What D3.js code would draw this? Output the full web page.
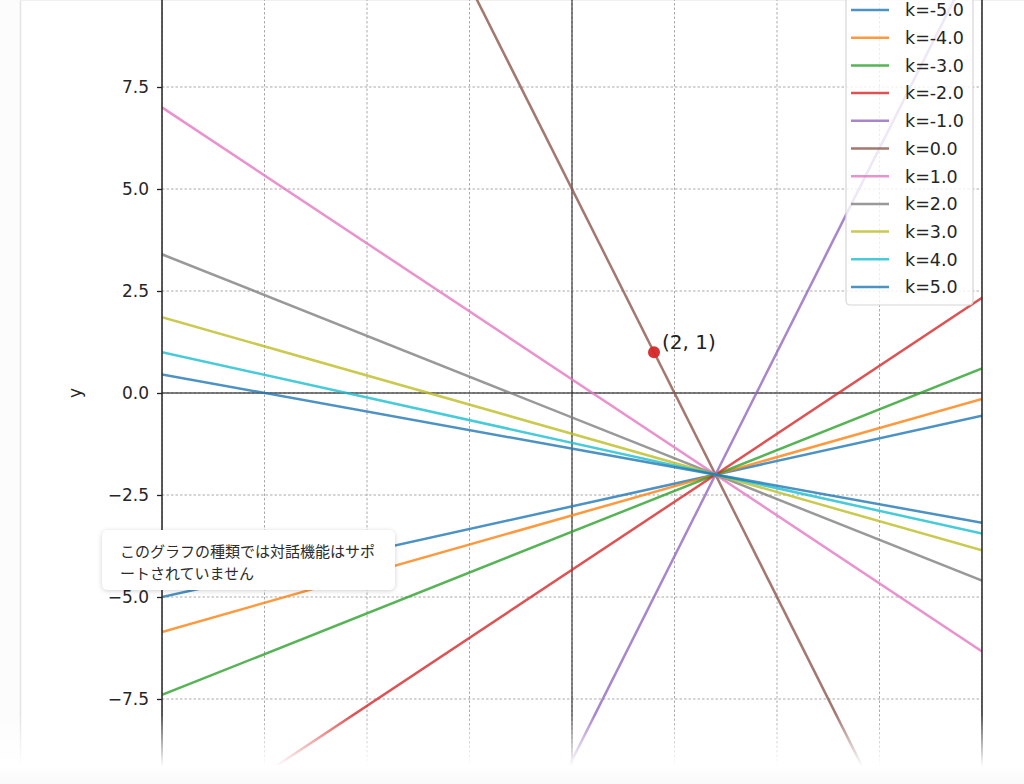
<!DOCTYPE html>
<html>
<head>
<meta charset="utf-8">
<script src="https://cdn.jsdelivr.net/npm/d3@7"></script>
<style>
  html, body { margin: 0; padding: 0; background: #ffffff; overflow: hidden; }
  svg { display: block; }
</style>
</head>
<body>
<svg id="chart" width="1024" height="784"></svg>
<script>
// ---- data ----
const kValues = [-5, -4, -3, -2, -1, 0, 1, 2, 3, 4, 5];
const xEnds = [-10, 10];
// y at x=-10 and at x=10 for each line (all pass through (3.5, -2))
const yLeft  = [-5.0, -5.857, -7.4, -11.0, -29.0, 25.0, 7.0, 3.4, 1.857, 1.0, 0.455];
const yRight = [-0.556, -0.143, 0.6, 2.333, 11.0, -15.0, -6.333, -4.6, -3.857, -3.444, -3.182];
const lineColors = ["#1f77b4", "#ff7f0e", "#2ca02c", "#d62728", "#9467bd", "#8c564b",
                    "#e377c2", "#7f7f7f", "#bcbd22", "#17becf", "#1f77b4"];
const yTicks = [-7.5, -5.0, -2.5, 0.0, 2.5, 5.0, 7.5];
const xGrid = [-10, -7.5, -5, -2.5, 0, 2.5, 5, 7.5, 10];
const yGrid = [-10, -7.5, -5, -2.5, 0, 2.5, 5, 7.5, 10];
const markPoint = { x: 2, y: 1, label: "(2, 1)" };
const tooltipLines = ["このグラフの種類では対話機能はサポ", "ートされていません"];

// ---- layout ----
const svg = d3.select("#chart");
const W = 1024, H = 784;
const L = 162, R = 982, T = -15, B = 801;
const x = d3.scaleLinear().domain([-10, 10]).range([L, R]);
const y = d3.scaleLinear().domain([-10, 10]).range([B, T]);
const font = "'DejaVu Sans', sans-serif";

// page background + left border
svg.append("rect").attr("width", W).attr("height", H).attr("fill", "#ffffff");
svg.append("rect").attr("x", 0).attr("y", 0).attr("width", 20).attr("height", H).attr("fill", "#fcfcfc");
svg.append("line").attr("x1", 20.5).attr("x2", 20.5).attr("y1", 0).attr("y2", H)
  .attr("stroke", "#e4e4e4").attr("stroke-width", 1.5);
svg.append("line").attr("x1", 20).attr("x2", W).attr("y1", 0.5).attr("y2", 0.5)
  .attr("stroke", "#f0f0f0").attr("stroke-width", 1);

const defs = svg.append("defs");
defs.append("clipPath").attr("id", "plotclip").append("rect")
  .attr("x", L).attr("y", T).attr("width", R - L).attr("height", B - T);

const g = svg.append("g");

// grid
const grid = g.append("g").attr("clip-path", "url(#plotclip)");
grid.selectAll("line.gx").data(xGrid).join("line")
  .attr("x1", d => x(d)).attr("x2", d => x(d)).attr("y1", T).attr("y2", B)
  .attr("stroke", "#aaaaaa").attr("stroke-width", 1).attr("stroke-dasharray", "2.5,2");
grid.selectAll("line.gy").data(yGrid).join("line")
  .attr("x1", L).attr("x2", R).attr("y1", d => y(d)).attr("y2", d => y(d))
  .attr("stroke", "#aaaaaa").attr("stroke-width", 1).attr("stroke-dasharray", "2.5,2");

// axis lines at x=0, y=0
g.append("line").attr("x1", L).attr("x2", R).attr("y1", y(0)).attr("y2", y(0))
  .attr("stroke", "#222").attr("stroke-opacity", 0.75).attr("stroke-width", 1.4);
g.append("line").attr("x1", x(0)).attr("x2", x(0)).attr("y1", T).attr("y2", B)
  .attr("stroke", "#222").attr("stroke-opacity", 0.75).attr("stroke-width", 1.4);

// lines
const lineGen = d3.line().x(d => x(d[0])).y(d => y(d[1]));
const linesG = g.append("g").attr("clip-path", "url(#plotclip)");
kValues.forEach((k, i) => {
  linesG.append("path")
    .attr("d", lineGen([[xEnds[0], yLeft[i]], [xEnds[1], yRight[i]]]))
    .attr("fill", "none").attr("stroke", lineColors[i])
    .attr("stroke-opacity", 0.8).attr("stroke-width", 2.5);
});

// point
g.append("circle").attr("cx", x(markPoint.x)).attr("cy", y(markPoint.y)).attr("r", 6)
  .attr("fill", "#d62728").attr("fill-opacity", 0.95);
g.append("text").attr("x", x(markPoint.x) + 8).attr("y", y(markPoint.y) - 3)
  .attr("font-family", font).attr("font-size", 20).attr("fill", "#222")
  .text(markPoint.label);

// spines
g.append("line").attr("x1", L).attr("x2", L).attr("y1", T).attr("y2", B)
  .attr("stroke", "#222").attr("stroke-width", 1.5);
g.append("line").attr("x1", R).attr("x2", R).attr("y1", T).attr("y2", B)
  .attr("stroke", "#222").attr("stroke-width", 1.5);

// y axis ticks
const yAxis = d3.axisLeft(y).tickValues(yTicks).tickSize(5).tickPadding(8)
  .tickFormat(d => d3.format(".1f")(d).replace(/[-\u2212]/, "\u2212"));
const ya = g.append("g").attr("transform", `translate(${L},0)`).call(yAxis);
ya.select(".domain").remove();
ya.selectAll(".tick line").attr("stroke", "#222").attr("stroke-width", 1.3);
ya.selectAll(".tick text").attr("font-family", font).attr("font-size", 17).attr("fill", "#262626");

// y label
g.append("text").attr("transform", `translate(81,${y(0)}) rotate(-90)`)
  .attr("text-anchor", "middle").attr("font-family", font).attr("font-size", 17)
  .attr("fill", "#262626").text("y");

// legend
const lg = g.append("g");
const legX = 846, legW = 127, legTop = -10, legBottom = 305;
lg.append("rect").attr("x", legX).attr("y", legTop).attr("width", legW).attr("height", legBottom - legTop)
  .attr("rx", 4).attr("fill", "#ffffff").attr("fill-opacity", 0.8)
  .attr("stroke", "#d6d6d6").attr("stroke-width", 1.2);
const rowY = d3.scaleLinear().domain([0, 10]).range([10, 287]);
kValues.forEach((k, i) => {
  const yy = rowY(i);
  lg.append("line").attr("x1", 851).attr("x2", 889).attr("y1", yy).attr("y2", yy)
    .attr("stroke", lineColors[i]).attr("stroke-opacity", 0.8).attr("stroke-width", 2.5);
  lg.append("text").attr("x", 905).attr("y", yy).attr("dy", "0.36em")
    .attr("font-family", font).attr("font-size", 17.5).attr("fill", "#262626")
    .text("k=" + d3.format(".1f")(k).replace("\u2212", "-"));
});

// bottom fade
const grad = defs.append("linearGradient").attr("id", "fade").attr("x1", 0).attr("x2", 0).attr("y1", 0).attr("y2", 1);
grad.append("stop").attr("offset", "0%").attr("stop-color", "#ffffff").attr("stop-opacity", 0);
grad.append("stop").attr("offset", "75%").attr("stop-color", "#ffffff").attr("stop-opacity", 1);
grad.append("stop").attr("offset", "100%").attr("stop-color", "#f9f9f9").attr("stop-opacity", 1);
svg.append("rect").attr("x", 0).attr("y", 714).attr("width", W).attr("height", 70).attr("fill", "url(#fade)");

// tooltip
const filt = defs.append("filter").attr("id", "shadow").attr("x", "-10%").attr("y", "-30%").attr("width", "120%").attr("height", "160%");
filt.append("feDropShadow").attr("dx", 0).attr("dy", 1).attr("stdDeviation", 2.5)
  .attr("flood-color", "#000").attr("flood-opacity", 0.18);
const tip = svg.append("g");
tip.append("rect").attr("x", 102).attr("y", 530).attr("width", 293).attr("height", 60)
  .attr("rx", 6).attr("fill", "#ffffff").attr("filter", "url(#shadow)");
tooltipLines.forEach((t, i) => {
  tip.append("text").attr("x", 120).attr("y", 557 + i * 22)
    .attr("font-family", "'Noto Sans CJK JP', sans-serif").attr("font-size", 15)
    .attr("fill", "#2b2b2b").text(t);
});
</script>
</body>
</html>
